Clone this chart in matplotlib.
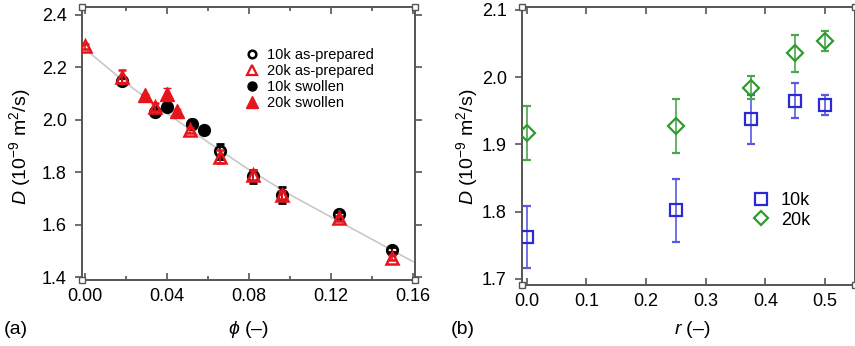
import matplotlib
matplotlib.use("Agg")
import matplotlib.pyplot as plt
from matplotlib.lines import Line2D
from matplotlib.ticker import MultipleLocator, FormatStrFormatter

plt.rcParams['font.family'] = ['Liberation Sans', 'DejaVu Sans']
plt.rcParams['mathtext.fontset'] = 'custom'
plt.rcParams['mathtext.rm'] = 'Liberation Sans'
plt.rcParams['mathtext.it'] = 'Liberation Sans:italic'

# ---- panel (a): D versus volume fraction ----
phi_10k_prep = [0.018, 0.034, 0.066, 0.082, 0.096, 0.124, 0.150]
D_10k_prep = [2.15, 2.03, 1.88, 1.785, 1.715, 1.64, 1.505]
err_10k_prep = [0.01, 0.01, 0.03, 0.025, 0.03, 0.01, 0.01]

phi_20k_prep = [0.0, 0.018, 0.034, 0.051, 0.066, 0.082, 0.096, 0.124, 0.150]
D_20k_prep = [2.28, 2.165, 2.05, 1.96, 1.86, 1.79, 1.715, 1.625, 1.475]
err_20k_prep = [0.01, 0.025, 0.015, 0.01, 0.025, 0.02, 0.015, 0.01, 0.01]

phi_10k_swol = [0.040, 0.052, 0.058]
D_10k_swol = [2.05, 1.985, 1.96]
err_10k_swol = [0.005, 0.02, 0.005]

phi_20k_swol = [0.029, 0.040, 0.045]
D_20k_swol = [2.095, 2.10, 2.035]
err_20k_swol = [0.005, 0.02, 0.005]

phi_fit = [0.0, 0.02, 0.04, 0.06, 0.08, 0.10, 0.12, 0.14, 0.16]
D_fit = [2.27, 2.14, 2.025, 1.915, 1.81, 1.715, 1.63, 1.545, 1.46]

# ---- panel (b): D versus swelling ratio ----
r_vals = [0.0, 0.25, 0.375, 0.45, 0.5]
D_10k = [1.762, 1.802, 1.937, 1.965, 1.959]
err_10k = [0.046, 0.047, 0.037, 0.026, 0.015]
D_20k = [1.917, 1.927, 1.984, 2.035, 2.053]
err_20k = [0.040, 0.040, 0.017, 0.027, 0.015]

RED = '#e8141c'
BLUE = '#2a2ad6'
GREEN = '#2f9a2f'
SPINE = '#555555'
YLABEL = r'$\it{D}$ (10$^{-9}$ m$^2$/s)'

fig = plt.figure(figsize=(8.55, 3.46), dpi=100)
axa = fig.add_axes([82 / 855, 1 - 280 / 346, 333 / 855, 273 / 346])
axb = fig.add_axes([522 / 855, 1 - 285 / 346, 333 / 855, 278 / 346])


def style(ax):
    for s in ax.spines.values():
        s.set_color(SPINE)
        s.set_linewidth(1.4)
    ax.tick_params(which='both', direction='in', top=True, right=True,
                   color=SPINE, width=1.2, labelsize=13, pad=6)
    ax.tick_params(which='major', length=5)
    ax.tick_params(which='minor', length=3)
    ax.tick_params(axis='y', which='both', left=True, direction='out')
    ax.plot([0, 1, 0, 1], [0, 0, 1, 1], 's', ms=5, mfc='white', mec=SPINE,
            mew=1.0, transform=ax.transAxes, clip_on=False, zorder=5)


# panel (a)
axa.plot(phi_fit, D_fit, '-', color='#c8c8c8', lw=1.2, zorder=1)
axa.errorbar(phi_10k_prep, D_10k_prep, yerr=err_10k_prep, fmt='o', ms=7.5,
             mfc='none', mec='black', mew=2.0, ecolor='black', elinewidth=1.2,
             capsize=3, zorder=3)
axa.errorbar(phi_20k_prep, D_20k_prep, yerr=err_20k_prep, fmt='^', ms=8,
             mfc='none', mec=RED, mew=1.8, ecolor=RED, elinewidth=1.2,
             capsize=3, zorder=4)
axa.errorbar(phi_10k_swol, D_10k_swol, yerr=err_10k_swol, fmt='o', ms=8.5,
             mfc='black', mec='black', ecolor='black', elinewidth=1.2,
             capsize=3, zorder=3)
axa.errorbar(phi_20k_swol, D_20k_swol, yerr=err_20k_swol, fmt='^', ms=10,
             mfc=RED, mec=RED, ecolor=RED, elinewidth=1.2,
             capsize=3, zorder=4)

axa.set_xlim(-0.0015, 0.161)
axa.set_ylim(1.39, 2.43)
axa.xaxis.set_major_locator(MultipleLocator(0.04))
axa.xaxis.set_minor_locator(MultipleLocator(0.02))
axa.yaxis.set_major_locator(MultipleLocator(0.2))
axa.xaxis.set_major_formatter(FormatStrFormatter('%.2f'))
axa.yaxis.set_major_formatter(FormatStrFormatter('%.1f'))
style(axa)

handles_a = [
    Line2D([], [], ls='none', marker='o', ms=5.5, mfc='none', mec='black', mew=1.8),
    Line2D([], [], ls='none', marker='^', ms=7, mfc='none', mec=RED, mew=1.6),
    Line2D([], [], ls='none', marker='o', ms=6.5, mfc='black', mec='black'),
    Line2D([], [], ls='none', marker='^', ms=8, mfc=RED, mec=RED),
]
labels_a = ['10k as-prepared', '20k as-prepared', '10k swollen', '20k swollen']
axa.legend(handles_a, labels_a, loc='upper left', bbox_to_anchor=(0.49, 0.85),
           frameon=False, fontsize=10.5, handlelength=1.0, handletextpad=0.5,
           labelspacing=0.14, borderaxespad=0, borderpad=0)

fig.text(20 / 855, 1 - 147 / 346, YLABEL, rotation=90,
         ha='center', va='center', fontsize=14)
fig.text(248 / 855, 1 - 330 / 346, r'$\it{\phi}$ (–)', ha='center', va='center',
         fontsize=14)
fig.text(4 / 855, 1 - 330 / 346, '(a)', ha='left', va='center', fontsize=14)

# panel (b)
axb.errorbar(r_vals, D_10k, yerr=err_10k, fmt='s', ms=8, mfc='none', mec=BLUE,
             mew=1.6, ecolor='#5a5ae0', elinewidth=1.2, capsize=3, zorder=3)
axb.errorbar(r_vals, D_20k, yerr=err_20k, fmt='D', ms=8, mfc='none', mec=GREEN,
             mew=1.6, ecolor='#4da64d', elinewidth=1.2, capsize=3, zorder=3)
axb.set_xlim(-0.008, 0.55)
axb.set_ylim(1.691, 2.104)
axb.xaxis.set_major_locator(MultipleLocator(0.1))
axb.yaxis.set_major_locator(MultipleLocator(0.1))
axb.xaxis.set_major_formatter(FormatStrFormatter('%.1f'))
axb.yaxis.set_major_formatter(FormatStrFormatter('%.1f'))
style(axb)

handles_b = [
    Line2D([], [], ls='none', marker='s', ms=8, mfc='none', mec=BLUE, mew=1.6),
    Line2D([], [], ls='none', marker='D', ms=7.5, mfc='none', mec=GREEN, mew=1.6),
]
axb.legend(handles_b, ['10k', '20k'], loc='upper left',
           bbox_to_anchor=(0.69, 0.335), frameon=False, fontsize=13,
           handlelength=1.0, handletextpad=0.6, labelspacing=0.15,
           borderaxespad=0, borderpad=0)

fig.text(467 / 855, 1 - 147 / 346, YLABEL, rotation=90,
         ha='center', va='center', fontsize=14)
fig.text(692 / 855, 1 - 330 / 346, r'$\it{r}$ (–)', ha='center', va='center',
         fontsize=14)
fig.text(451 / 855, 1 - 330 / 346, '(b)', ha='left', va='center', fontsize=14)

fig.savefig('out.png', dpi=100)
